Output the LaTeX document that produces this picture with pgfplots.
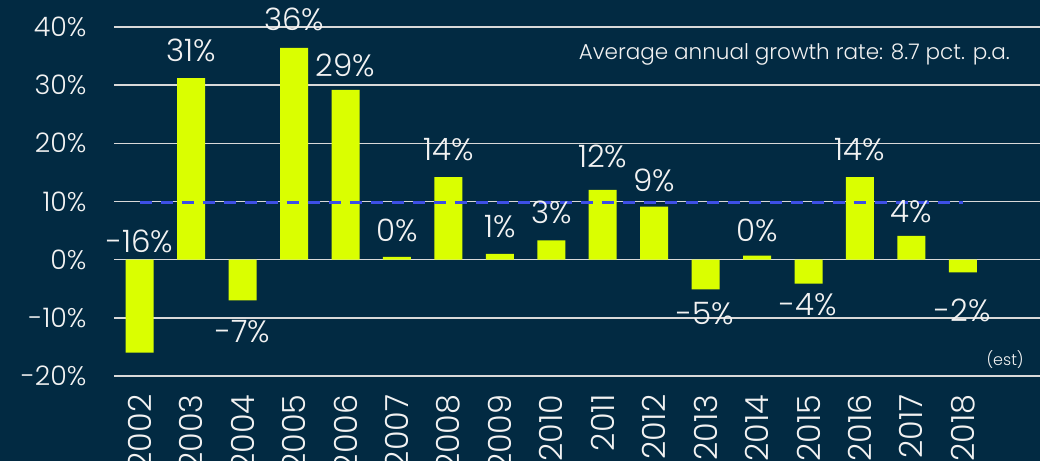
\documentclass[border=0pt]{standalone}
\usepackage{pgfplots}
\pgfplotsset{compat=1.18}
\usepackage{pgfplotstable}
\usepackage{fontspec}
\setmainfont{Poppins}[UprightFont=* Light]
\definecolor{bg}{HTML}{022A42}
\definecolor{barc}{HTML}{DAFF00}
\definecolor{gridc}{HTML}{D9D9D9}
\definecolor{avgc}{HTML}{3D4FE6}
\definecolor{txt}{HTML}{F2F2F2}
\pgfplotstableread{
x y
0 -16.0
1 31.2
2 -7.0
3 36.4
4 29.2
5 0.5
6 14.2
7 1.0
8 3.3
9 12.0
10 9.1
11 -5.1
12 0.7
13 -4.1
14 14.2
15 4.1
16 -2.2
}\growth
\pgfplotstableread{
x y lab
0 3.1 -16\%
1 36.0 31\%
2 -12.4 -7\%
3 41.3 36\%
4 33.4 29\%
5 5.1 0\%
6 18.9 14\%
7 5.7 1\%
8 8.2 3\%
9 17.7 12\%
10 13.6 9\%
11 -9.3 -5\%
12 5.1 0\%
13 -7.7 -4\%
14 18.9 14\%
15 8.2 4\%
16 -8.7 -2\%
}\labels
\begin{document}
\begin{tikzpicture}
\fill[bg] (0,0) rectangle (1040bp,461bp);
\begin{axis}[
  at={(114bp,85bp)}, anchor=south west,
  scale only axis, width=926bp, height=349bp,
  xmin=-0.5, xmax=17.5, ymin=-20, ymax=40,
  axis line style={draw=none},
  ytick={-20,-10,0,10,20,30,40},
  yticklabels={-20\%,-10\%,0\%,10\%,20\%,30\%,40\%},
  xtick={0,...,16},
  xticklabels={2002,2003,2004,2005,2006,2007,2008,2009,2010,2011,2012,2013,2014,2015,2016,2017,2018},
  major tick length=0pt,
  ymajorgrids, grid style={gridc, line width=1.6bp},
  yticklabel style={font=\fontsize{27}{30}\selectfont, text=txt, anchor=east, xshift=-24bp},
  xticklabel style={font=\fontsize{32}{36}\selectfont, text=txt, rotate=90, anchor=east, xshift=-15bp},
  clip=false,
]
\addplot[ybar, bar width=28bp, bar shift=0pt, fill=barc, draw=none] table[x=x,y=y]{\growth};
\addplot[avgc, line width=3bp, dash pattern=on 12bp off 9bp] coordinates {(0,9.8) (16,9.8)};
\addplot[draw=none, mark=none, nodes near coords, point meta=explicit symbolic,
  nodes near coords style={anchor=center, font=\fontsize{31}{34}\selectfont, text=txt}]
  table[x=x,y=y,meta=lab]{\labels};
\node[anchor=east, text=txt, font=\fontsize{21.6}{24}\selectfont] at (axis cs:16.98,35.3) {Average annual growth rate: 8.7 pct. p.a.};
\node[anchor=east, text=txt, font=\fontsize{16}{18}\selectfont] at (axis cs:17.25,-17.1) {(est)};
\end{axis}
\pgfresetboundingbox
\useasboundingbox (0,0) rectangle (1040bp,461bp);
\end{tikzpicture}
\end{document}
